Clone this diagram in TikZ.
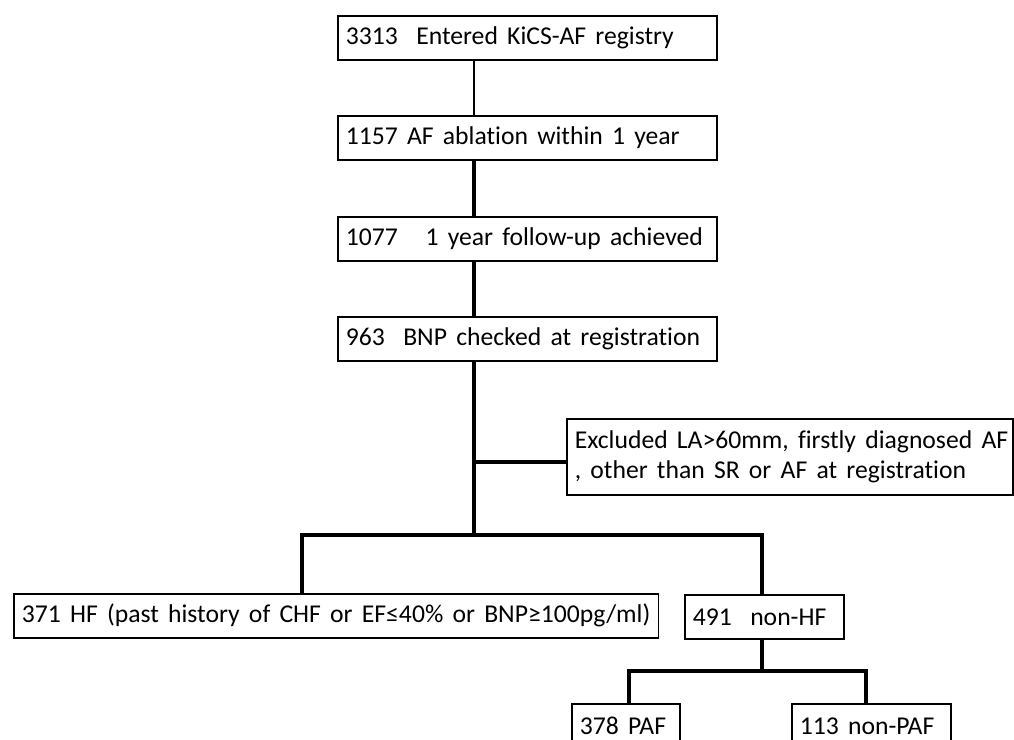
\documentclass[tikz,border=0pt]{standalone}
\usepackage{fontspec}
\setmainfont{Carlito}[Ligatures={NoCommon}]
\usetikzlibrary{calc}
\tikzset{
	boite/.style={draw,line width=0.9pt,anchor=north west,align=flush left,inner xsep=0.16cm,inner ysep=0pt,minimum height=0.88cm,font={\fontsize{14.6}{17.2}\selectfont\spaceskip=0.36em\relax}},
	trait/.style={line width=2pt},
}
\begin{document}
\begin{tikzpicture}[x=0.02cm,y=-0.02cm]
				\useasboundingbox (0,0) rectangle (1014,740);
				\clip (0,0) rectangle (1014,740);
				% Boîtes
				\node[boite,text width=7.26cm] (reg) at (337,15) {\mbox{3313\ \ Entered KiCS-AF registry}};
				\node[boite,text width=7.26cm] (abl) at (337,115) {\mbox{1157 AF ablation within 1 year}};
				\node[boite,text width=7.26cm] (fu) at (337,216) {\mbox{1077\ \ \ 1 year follow-up achieved}};
				\node[boite,text width=7.26cm] (bnp) at (337,316) {\mbox{963\ \ BNP checked at registration}};
				\node[boite,text width=8.6cm,minimum height=1.52cm] (excl) at (566,418) {\mbox{Excluded LA>60mm, firstly diagnosed AF}\\\mbox{, other than SR or AF at registration}};
				\node[boite,text width=12.58cm] (hf) at (13,593) {\mbox{371 HF (past history of CHF or EF≤40\% or BNP≥100pg/ml)}};
				\node[boite,text width=2.86cm] (nonhf) at (684,594) {\mbox{491\ \ non-HF}};
				\node[boite,text width=1.84cm] (paf) at (571,703) {\mbox{378 PAF}};
				\node[boite,text width=2.86cm] (npaf) at (791,703) {\mbox{113 non-PAF}};
				% Traits
				\coordinate (tronc) at (474,0);
				\coordinate (excljn) at (474,462);
				\coordinate (hfjn) at (302,535);
				\coordinate (nhjn) at (762,535);
				\coordinate (pafjn) at (629,671);
				\coordinate (npafjn) at (866,671);
				\draw [line width=1pt] (reg.south -| tronc) -- (abl.north -| tronc);
				\draw [trait] (abl.south -| tronc) -- (fu.north -| tronc);
				\draw [trait] (fu.south -| tronc) -- (bnp.north -| tronc);
				\draw [trait] (bnp.south -| tronc) -- (tronc |- hfjn);
				\draw [trait] (excljn) -- (excl.west |- excljn);
				\draw [trait] (hf.north -| hfjn) -- (hfjn) -- (nhjn) -- (nonhf.north -| nhjn);
				\draw [trait] (nonhf.south -| nhjn) -- (nhjn |- pafjn);
				\draw [trait] (paf.north -| pafjn) -- (pafjn) -- (npafjn) -- (npaf.north -| npafjn);
\end{tikzpicture}
\end{document}
